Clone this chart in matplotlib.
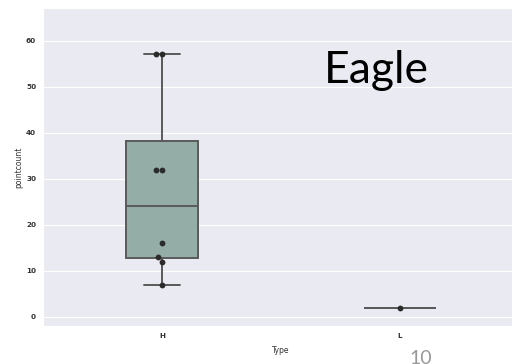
import matplotlib
matplotlib.use("Agg")
import matplotlib.pyplot as plt
import seaborn as sns
import pandas as pd

types = ["H", "H", "H", "H", "H", "H", "H", "H", "L"]
pointcount = [57, 57, 32, 32, 16, 13, 12, 7, 2]
categories = ["H", "L"]
yticks = [0, 10, 20, 30, 40, 50, 60]

df = pd.DataFrame({"Type": types, "pointcount": pointcount})

sns.set_style("darkgrid")
plt.rcParams['font.family'] = ['DejaVu Sans']

fig = plt.figure(figsize=(5.12, 3.64), dpi=100)
ax = fig.add_axes([43/512, 1 - 326/364, (519 - 43)/512, (326 - 8)/364])

box_color = "#94ADA6"
line_color = "#5a5a5a"
sns.boxplot(data=df, x="Type", y="pointcount", order=categories, ax=ax,
            width=0.3, color=box_color, saturation=1, linewidth=1.4,
            linecolor=line_color, whis=1.5, showfliers=False)
for patch in ax.patches:
    patch.set_facecolor(box_color)
    patch.set_edgecolor(line_color)
sns.swarmplot(data=df, x="Type", y="pointcount", order=categories, ax=ax,
              color="#2b2b2b", size=4.2)

ax.set_ylim(-2.0, 67.1)
ax.set_xlim(-0.5, 1.5)
ax.set_yticks(yticks)
ax.tick_params(axis='both', labelsize=5.2, colors="#333333", length=0, pad=5)
for lab in ax.get_xticklabels() + ax.get_yticklabels():
    lab.set_fontweight('bold')
ax.set_xlabel("Type", fontsize=5.5, color="#333333", labelpad=5)
ax.set_ylabel("pointcount", fontsize=5.5, color="#333333", labelpad=2)

fig.text(324/512, 1 - 83/364, "Eagle", fontsize=32, family=["Lato", "DejaVu Sans"],
         color="black", va="baseline", ha="left")
fig.text(421/512, 1 - 350/364, "10", fontsize=14, family=["Lato", "DejaVu Sans"],
         color="#999999", va="top", ha="center")

fig.savefig("out.png", dpi=100)
